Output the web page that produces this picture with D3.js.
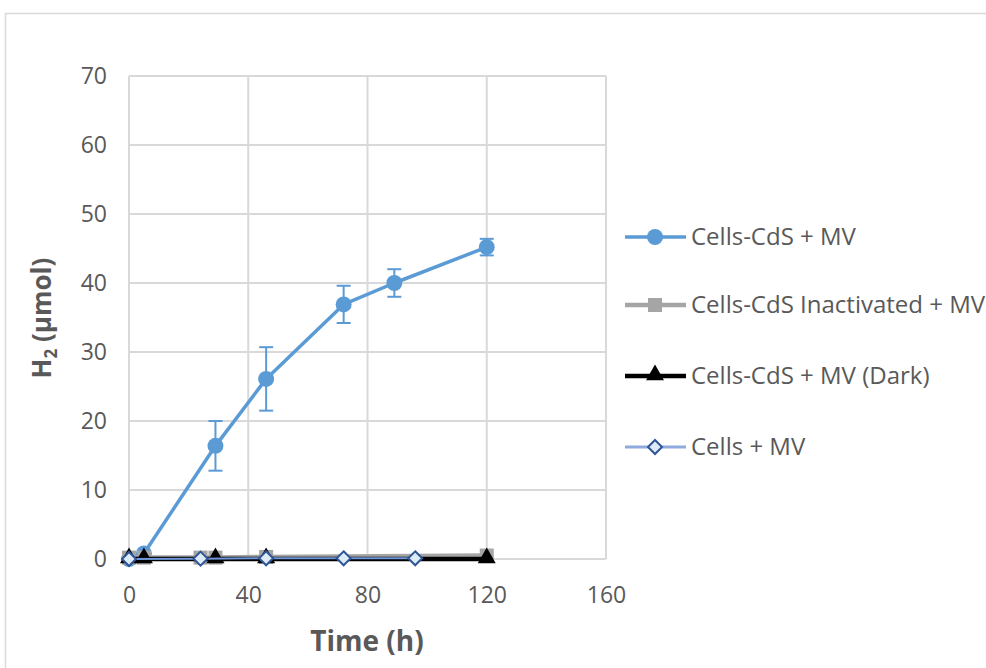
<!DOCTYPE html>
<html><head><meta charset="utf-8">
<script src="https://cdn.jsdelivr.net/npm/d3@7"></script>
<style>body{margin:0;background:#fff}svg{display:block}</style>
</head><body>
<script>
const xTicks = [0, 40, 80, 120, 160];
const yTicks = [0, 10, 20, 30, 40, 50, 60, 70];
const seriesNames = ["Cells-CdS + MV", "Cells-CdS Inactivated + MV", "Cells-CdS + MV (Dark)", "Cells + MV"];
const cdsTime = [0, 5, 29, 46, 72, 89, 120];
const cdsH2 = [0, 0.8, 16.4, 26.1, 36.9, 40.0, 45.2];
const cdsErr = [0, 0.3, 3.6, 4.6, 2.7, 2.0, 1.2];
const inactTime = [0, 5, 24, 29, 46, 120];
const inactH2 = [0.2, 0.2, 0.2, 0.2, 0.3, 0.5];
const darkTime = [0, 5, 29, 46, 120];
const darkH2 = [0, 0, 0, 0, 0];
const cellsTime = [0, 24, 46, 72, 96];
const cellsH2 = [0, 0.05, 0.1, 0.1, 0.1];

const W = 986, H = 668;
const svg = d3.select("body").append("svg").attr("width", W).attr("height", H);
const font = "'Open Sans', 'Noto Sans', sans-serif";

svg.append("rect").attr("x", 5.5).attr("y", 13.5).attr("width", 1000).attr("height", 700)
  .attr("fill", "none").attr("stroke", "#d9d9d9").attr("stroke-width", 1.5);

const x = d3.scaleLinear().domain([0, 160]).range([129, 606]);
const y = d3.scaleLinear().domain([0, 70]).range([559, 76]);

const g = svg.append("g");
g.selectAll(".gx").data(xTicks).join("line")
  .attr("x1", d => x(d)).attr("x2", d => x(d)).attr("y1", y(0)).attr("y2", y(70))
  .attr("stroke", "#d9d9d9").attr("stroke-width", 2);
g.selectAll(".gy").data(yTicks).join("line")
  .attr("x1", x(0)).attr("x2", x(160)).attr("y1", d => y(d)).attr("y2", d => y(d))
  .attr("stroke", "#d9d9d9").attr("stroke-width", 2);

const xAxis = d3.axisBottom(x).tickValues(xTicks).tickSize(0).tickPadding(28);
const yAxis = d3.axisLeft(y).tickValues(yTicks).tickSize(0).tickPadding(22);
const gxA = svg.append("g").attr("transform", `translate(0,${y(0)})`).call(xAxis);
const gyA = svg.append("g").attr("transform", `translate(${x(0)},0)`).call(yAxis);
[gxA, gyA].forEach(a => {
  a.select(".domain").remove();
  a.selectAll("text").attr("font-family", font).attr("font-size", 23).attr("fill", "#595959");
});

svg.append("text").attr("x", 367).attr("y", 651).attr("text-anchor", "middle")
  .attr("font-family", font).attr("font-size", 28).attr("font-weight", "bold").attr("fill", "#595959")
  .text("Time (h)");
const yt = svg.append("text").attr("transform", "translate(51,318) rotate(-90)").attr("text-anchor", "middle")
  .attr("font-family", font).attr("font-size", 26).attr("font-weight", "bold").attr("fill", "#595959");
yt.append("tspan").text("H");
yt.append("tspan").attr("font-size", 17).attr("dy", 6).text("2");
yt.append("tspan").attr("dy", -6).text(" (µmol)");

const line = d3.line().x(d => x(d[0])).y(d => y(d[1]));
const zip = (a, b) => a.map((v, i) => [v, b[i]]);

const s1 = zip(cdsTime, cdsH2);
g.append("path").attr("d", line(s1)).attr("fill", "none").attr("stroke", "#5B9BD5").attr("stroke-width", 3.5).attr("stroke-linejoin", "round");
const eb = g.append("g").attr("stroke", "#5B9BD5").attr("stroke-width", 2);
cdsTime.forEach((t, i) => {
  if (cdsErr[i] < 0.5) return;
  eb.append("line").attr("x1", x(t)).attr("x2", x(t)).attr("y1", y(cdsH2[i] - cdsErr[i])).attr("y2", y(cdsH2[i] + cdsErr[i]));
  [cdsH2[i] - cdsErr[i], cdsH2[i] + cdsErr[i]].forEach(v =>
    eb.append("line").attr("x1", x(t) - 7).attr("x2", x(t) + 7).attr("y1", y(v)).attr("y2", y(v)));
});
g.selectAll(".c1").data(s1).join("circle").attr("cx", d => x(d[0])).attr("cy", d => y(d[1])).attr("r", 8).attr("fill", "#5B9BD5");

const s2 = zip(inactTime, inactH2);
g.append("path").attr("d", line(s2)).attr("fill", "none").attr("stroke", "#A5A5A5").attr("stroke-width", 4.5);
g.selectAll(".c2").data(s2).join("rect").attr("x", d => x(d[0]) - 7).attr("y", d => y(d[1]) - 7).attr("width", 14).attr("height", 14).attr("fill", "#A5A5A5");

const s3 = zip(darkTime, darkH2);
g.append("path").attr("d", line(s3)).attr("fill", "none").attr("stroke", "#000").attr("stroke-width", 4.5);
const tri = d3.symbol().type(d3.symbolTriangle).size(140);
g.selectAll(".c3").data(s3).join("path").attr("d", tri).attr("transform", d => `translate(${x(d[0])},${y(d[1]) - 1})`).attr("fill", "#000");

const s4 = zip(cellsTime, cellsH2);
g.append("path").attr("d", line(s4)).attr("fill", "none").attr("stroke", "#6F97DA").attr("stroke-width", 2);
const dia = () => `M0,-7L7,0L0,7L-7,0Z`;
g.selectAll(".c4").data(s4).join("path").attr("d", dia).attr("transform", d => `translate(${x(d[0])},${y(d[1])})`)
  .attr("fill", "#DDEBF7").attr("stroke", "#2F5597").attr("stroke-width", 2);

const legY = [237, 305, 376, 447];
const lg = svg.append("g");
const lx1 = 625, lx2 = 686, lm = 655;
lg.append("line").attr("x1", lx1).attr("x2", lx2).attr("y1", legY[0]).attr("y2", legY[0]).attr("stroke", "#5B9BD5").attr("stroke-width", 3.5);
lg.append("circle").attr("cx", lm).attr("cy", legY[0]).attr("r", 8).attr("fill", "#5B9BD5");
lg.append("line").attr("x1", lx1).attr("x2", lx2).attr("y1", legY[1]).attr("y2", legY[1]).attr("stroke", "#A5A5A5").attr("stroke-width", 4.5);
lg.append("rect").attr("x", lm - 7).attr("y", legY[1] - 7).attr("width", 14).attr("height", 14).attr("fill", "#A5A5A5");
lg.append("line").attr("x1", lx1).attr("x2", lx2).attr("y1", legY[2]).attr("y2", legY[2]).attr("stroke", "#000").attr("stroke-width", 4.5);
lg.append("path").attr("d", tri).attr("transform", `translate(${lm},${legY[2] - 1})`).attr("fill", "#000");
lg.append("line").attr("x1", lx1).attr("x2", lx2).attr("y1", legY[3]).attr("y2", legY[3]).attr("stroke", "#8FAADC").attr("stroke-width", 3);
lg.append("path").attr("d", dia()).attr("transform", `translate(${lm},${legY[3]})`).attr("fill", "#DDEBF7").attr("stroke", "#2F5597").attr("stroke-width", 2);
lg.selectAll("text").data(seriesNames).join("text").attr("x", 691).attr("y", (d, i) => legY[i] + 8)
  .attr("font-family", font).attr("font-size", 24).attr("fill", "#595959").text(d => d);
</script>
</body></html>
